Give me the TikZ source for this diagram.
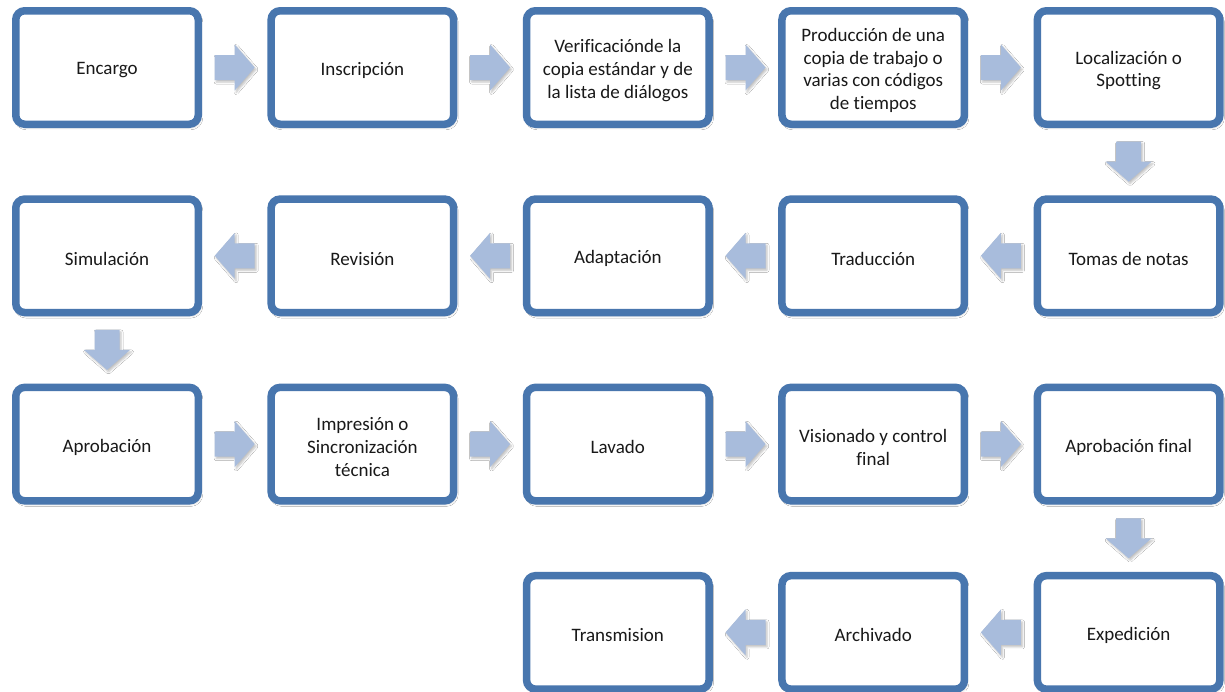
\documentclass[tikz,border=0pt]{standalone}
\usepackage{fontspec}
\setmainfont{Carlito}[Ligatures={NoCommon}]
\usetikzlibrary{calc,shadows.blur}
\definecolor{boxc}{RGB}{72,118,174}
\definecolor{arrowc}{RGB}{168,188,220}
\definecolor{txtc}{RGB}{25,25,25}
\newcommand{\blockarrow}[3]{%
  \path ($(#1)!0.5!(#2)$) coordinate (m#1#2);
  \begin{scope}[shift={(m#1#2)}, rotate=#3]
    \fill[arrowc, arrshadow] (-20pt,12.5pt) -- (0pt,12.5pt) -- (0pt,23pt) -- (20pt,0pt)
      -- (0pt,-23pt) -- (0pt,-12.5pt) -- (-20pt,-12.5pt) -- cycle;
  \end{scope}}
\newcommand{\stepnode}[3]{%
  \node[stepbox] (#1) at (#2) {};
  \node[steptext] (#1t) at ([yshift=-3pt]#1.center) {#3};}
\begin{document}
\begin{tikzpicture}[x=1pt,y=-1pt,
  stepbox/.style={draw=boxc, line width=7.5pt, rounded corners=9pt, fill=white,
    minimum width=182.5pt, minimum height=113.5pt, inner sep=0pt,
    blur shadow={shadow xshift=1.5pt, shadow yshift=-2.5pt, shadow blur radius=3pt, shadow opacity=30}},
  steptext/.style={align=center, inner sep=0pt, text=txtc, font=\fontsize{19}{22.8}\selectfont},
  arrshadow/.style={blur shadow={shadow xshift=1.5pt, shadow yshift=-2pt, shadow blur radius=2pt, shadow opacity=25}}]
\useasboundingbox (0,0) rectangle (1225,691);
\fill[white] (0,0) rectangle (1225,691);
% row 1
\stepnode{a1}{107,67.5}{Encargo}
\stepnode{a2}{362.4,67.5}{Inscripción}
\stepnode{a3}{617.8,67.5}{Verificaciónde la\\copia estándar y de\\la lista de diálogos}
\stepnode{a4}{873.2,67.5}{Producción de una\\copia de trabajo o\\varias con códigos\\de tiempos}
\stepnode{a5}{1128.6,67.5}{Localización o\\Spotting}
% row 2
\stepnode{b5}{1128.6,255.8}{Tomas de notas}
\stepnode{b4}{873.2,255.8}{Traducción}
\stepnode{b3}{617.8,255.8}{Adaptación}
\stepnode{b2}{362.4,255.8}{Revisión}
\stepnode{b1}{107,255.8}{Simulación}
% row 3
\stepnode{c1}{107,444.1}{Aprobación}
\stepnode{c2}{362.4,444.1}{Impresión o\\Sincronización\\técnica}
\stepnode{c3}{617.8,444.1}{Lavado}
\stepnode{c4}{873.2,444.1}{Visionado y control\\final}
\stepnode{c5}{1128.6,444.1}{Aprobación final}
% row 4
\stepnode{d5}{1128.6,632.4}{Expedición}
\stepnode{d4}{873.2,632.4}{Archivado}
\stepnode{d3}{617.8,632.4}{Transmision}
% arrows
\blockarrow{a1}{a2}{0}
\blockarrow{a2}{a3}{0}
\blockarrow{a3}{a4}{0}
\blockarrow{a4}{a5}{0}
\blockarrow{a5}{b5}{-90}
\blockarrow{b5}{b4}{180}
\blockarrow{b4}{b3}{180}
\blockarrow{b3}{b2}{180}
\blockarrow{b2}{b1}{180}
\blockarrow{b1}{c1}{-90}
\blockarrow{c1}{c2}{0}
\blockarrow{c2}{c3}{0}
\blockarrow{c3}{c4}{0}
\blockarrow{c4}{c5}{0}
\blockarrow{c5}{d5}{-90}
\blockarrow{d5}{d4}{180}
\blockarrow{d4}{d3}{180}
\end{tikzpicture}
\end{document}
